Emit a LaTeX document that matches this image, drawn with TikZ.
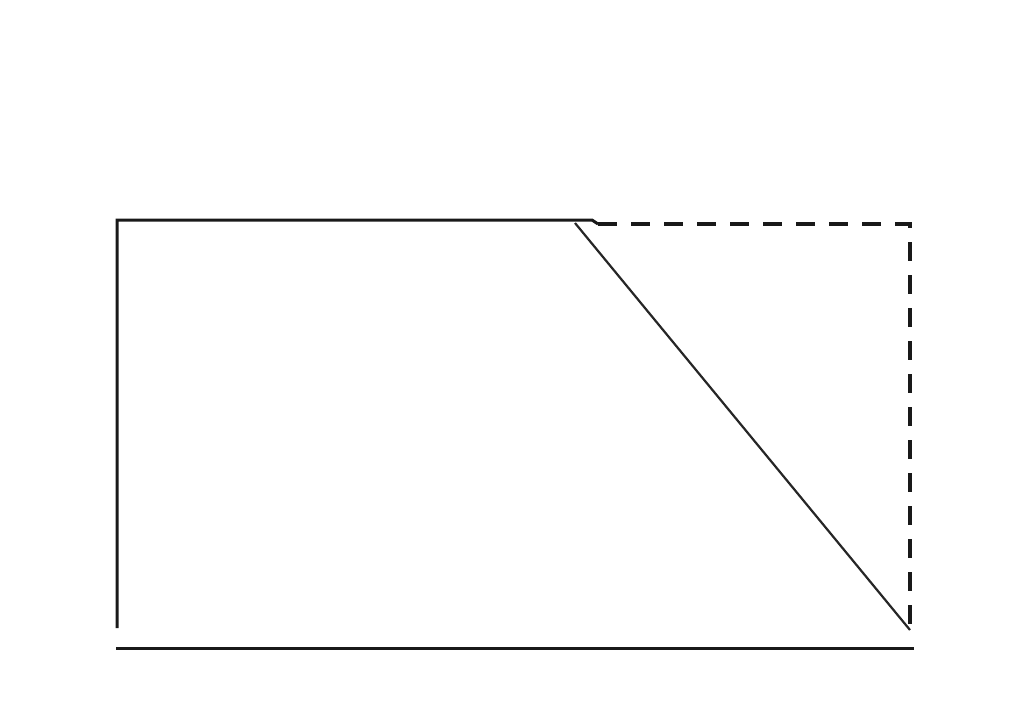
\documentclass[tikz,border=0pt]{standalone}
\begin{document}
\begin{tikzpicture}[x=1pt,y=-1pt,
  edge/.style={line width=3pt,black!90},
  thin edge/.style={line width=2.2pt,black!85},
  dash edge/.style={line width=3.4pt,black!90,dash pattern=on 19pt off 14pt}]
\useasboundingbox (0,0) rectangle (1024,726);
\coordinate (tl) at (117,220);
\coordinate (tm) at (592,220);
\coordinate (ts) at (598,224);
\coordinate (tr) at (910,224);
\coordinate (br) at (910,630);
\coordinate (bl) at (117,628);
\coordinate (d0) at (575,223);
\coordinate (b0) at (116,648);
\coordinate (b1) at (914,648);
\draw[edge] (bl) -- (tl) -- (tm) -- (ts);
\draw[dash edge] (ts) -- (tr) -- (br);
\draw[thin edge] (d0) -- (br);
\draw[edge] (b0) -- (b1);
\end{tikzpicture}
\end{document}
